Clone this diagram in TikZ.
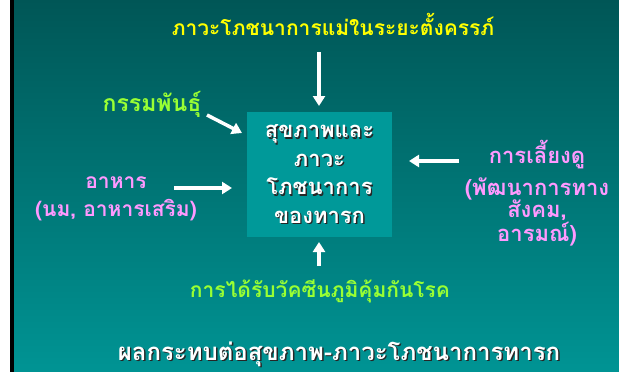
\documentclass[tikz,border=0pt]{standalone}
\usepackage{fontspec}
\newfontfamily\thaifont[Script=Thai]{Loma}
\usetikzlibrary{arrows.meta}
\definecolor{bgtop}{RGB}{0,86,86}
\definecolor{bgbot}{RGB}{0,148,148}
\definecolor{boxfill}{RGB}{0,153,153}
\definecolor{ttlyellow}{RGB}{255,255,0}
\definecolor{lgreen}{RGB}{153,255,51}
\definecolor{lpink}{RGB}{255,153,255}
\newcommand{\shtxt}[1]{\leavevmode\rlap{\kern1.4pt\raisebox{-1.4pt}{\textcolor{black!85}{#1}}}#1}
\tikzset{
  lbl/.style={align=center, inner sep=0pt},
  warrow/.style={draw=white, line width=3.5pt, -{Triangle[length=10pt,width=12pt]}},
}
\begin{document}
\begin{tikzpicture}[x=1pt,y=-1pt]
\useasboundingbox (0,0) rectangle (619,372);
\shade[top color=bgtop, bottom color=bgbot] (0,0) rectangle (619,372);
\fill[white] (0,0) rectangle (10,372);
\fill[black] (10,0) rectangle (14,372);
\node[lbl, text=ttlyellow, font=\thaifont\bfseries\fontsize{21}{24}\selectfont] (top) at (333,24) {ภาวะโภชนาการแม่ในระยะตั้งครรภ์};
\node[fill=boxfill, minimum width=145pt, minimum height=125pt, inner sep=0pt] (box) at (319.5,174.5) {};
\node[lbl, text=white, font=\thaifont\bfseries\fontsize{22}{28.5}\selectfont] (boxt) at (319.5,175)
  {\shtxt{สุขภาพและ}\\\shtxt{ภาวะ}\\\shtxt{โภชนาการ}\\\shtxt{ของทารก}};
\node[lbl, text=lgreen, font=\thaifont\bfseries\fontsize{23}{26}\selectfont] (gen) at (152,104) {กรรมพันธุ์};
\node[lbl, text=lpink, font=\thaifont\bfseries\fontsize{21}{28}\selectfont] (food) at (116,199) {อาหาร\\(นม, อาหารเสริม)};
\node[lbl, text=lpink, font=\thaifont\bfseries\fontsize{22}{22.5}\selectfont] (care) at (537,193) {การเลี้ยงดู\\[8pt](พัฒนาการทาง\\สังคม,\\อารมณ์)};
\node[lbl, text=lgreen, font=\thaifont\bfseries\fontsize{21}{24}\selectfont] (vac) at (320,291) {การได้รับวัคซีนภูมิคุ้มกันโรค};
\node[lbl, text=white, font=\thaifont\bfseries\fontsize{24}{26}\selectfont] (res) at (339,355) {\shtxt{ผลกระทบต่อสุขภาพ-ภาวะโภชนาการทารก}};
\coordinate (a1s) at (319,52);
\coordinate (a1e) at (319,106);
\coordinate (a2s) at (207,115);
\coordinate (a2e) at (242,133);
\coordinate (a3s) at (174,188);
\coordinate (a3e) at (232,188);
\coordinate (a4s) at (459,161);
\coordinate (a4e) at (409,161);
\coordinate (a5s) at (319,266);
\coordinate (a5e) at (319,242);
\draw[warrow] (a1s) -- (a1e);
\draw[warrow] (a2s) -- (a2e);
\draw[warrow] (a3s) -- (a3e);
\draw[warrow] (a4s) -- (a4e);
\draw[warrow] (a5s) -- (a5e);
\end{tikzpicture}
\end{document}
